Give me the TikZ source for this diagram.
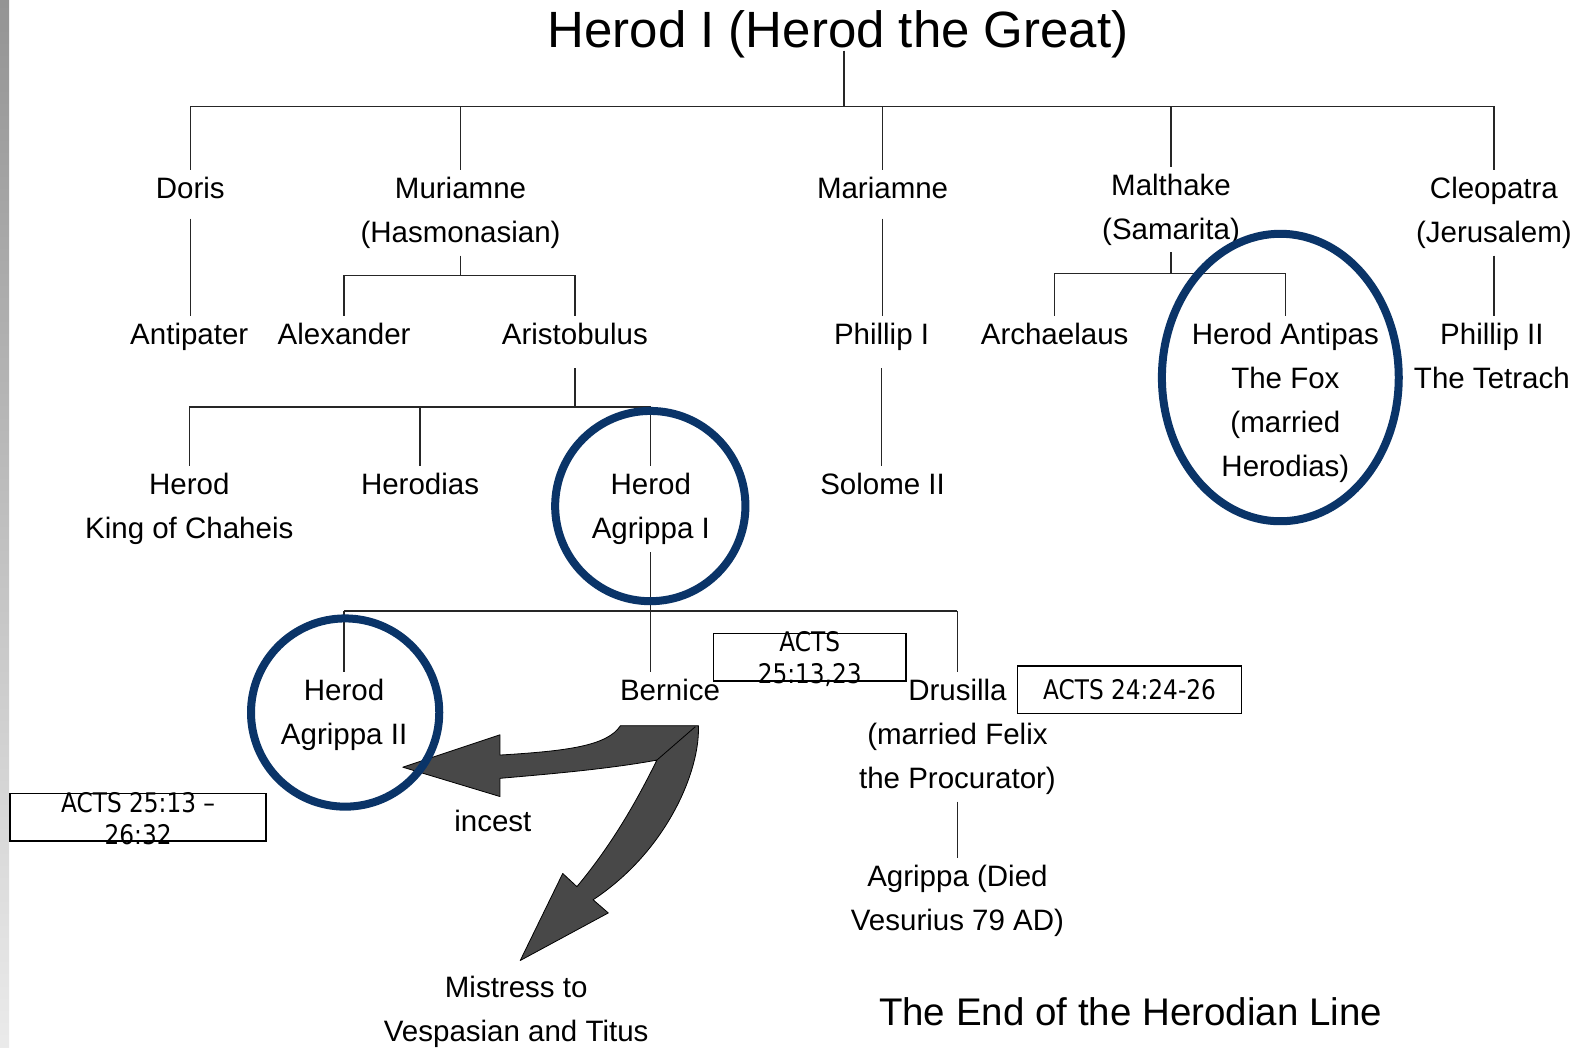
\documentclass[tikz,border=0pt]{standalone}
\usepackage{fontspec}
\setmainfont{Liberation Sans}
\newfontfamily\actsfont[FakeStretch=0.86]{DejaVu Sans}
\usetikzlibrary{calc}
\definecolor{ringblue}{RGB}{10,52,104}
\definecolor{arrowgray}{RGB}{72,72,72}
\begin{document}
\begin{tikzpicture}[x=1.0121pt,y=-1.0121pt,
  person/.style={font=\fontsize{29.5}{44}\selectfont, align=center, inner xsep=1pt, inner ysep=7pt, anchor=north},
  conn/.style={draw=black!85, line width=1.3pt},
  ring/.style={draw=ringblue, line width=8pt},
  actsbox/.style={draw=black, line width=1.6pt},
  actstext/.style={font=\actsfont\fontsize{27}{31.5}\selectfont, align=center, inner sep=0pt},
  bigarrow/.style={fill=arrowgray, draw=black, line width=0.8pt, line join=round},
]
\fill[white] (0,0) rectangle (1568,1035);
\useasboundingbox (0,0) rectangle (1568,1035);
\shade[top color=black!42, bottom color=black!8] (0,0) rectangle (9,1035);

% title
\node[font=\fontsize{51}{60}\selectfont, anchor=base, inner sep=0pt] (title) at (828,47) {Herod I (Herod the Great)};

% wives
\node[person] (doris) at (188,167.6) {Doris};
\node[person] (muriamne) at (455,167.6) {Muriamne\\(Hasmonasian)};
\node[person] (mariamne) at (872,167.6) {Mariamne};
\node[person] (malthake) at (1157,164.6) {Malthake\\(Samarita)};
\node[person] (cleopatra) at (1476,167.6) {Cleopatra\\(Jerusalem)};

% sons
\node[person] (antipater) at (187,312.6) {Antipater};
\node[person] (alexander) at (340,312.6) {Alexander};
\node[person] (aristobulus) at (568,312.6) {Aristobulus};
\node[person] (phillip1) at (871,312.6) {Phillip I};
\node[person] (archaelaus) at (1042,312.6) {Archaelaus};
\node[person] (antipas) at (1270,312.6) {Herod Antipas\\The Fox\\(married\\Herodias)};
\node[person] (phillip2) at (1474,312.6) {Phillip II\\The Tetrach};

% grandchildren
\node[person] (herodK) at (187,460.6) {Herod\\King of Chaheis};
\node[person] (herodias) at (415,460.6) {Herodias};
\node[person] (agrippa1) at (643,460.6) {Herod\\Agrippa I};
\node[person] (solome) at (872,460.6) {Solome II};

% great-grandchildren
\node[person] (agrippa2) at (340,663.6) {Herod\\Agrippa II};
\node[person] (bernice) at (662,663.6) {Bernice};
\node[person] (drusilla) at (946,663.6) {Drusilla\\(married Felix\\the Procurator)};
\node[person] (agrippa) at (946,847.6) {Agrippa (Died\\Vesurius 79 AD)};

\node[person] (incest) at (487,793.6) {incest};
\node[person] (mistress) at (510,957.6) {Mistress to\\Vespasian and Titus};
\node[font=\fontsize{38.5}{46}\selectfont, anchor=base, inner sep=0pt] (endline) at (1117,1013.6) {The End of the Herodian Line};

% connectors
\coordinate (bar0) at (834,105);
\draw[conn] ($(title.base -| bar0)+(0,3)$) -- (bar0);
\draw[conn] (doris.north |- bar0) -- (cleopatra.north |- bar0);
\foreach \n in {doris,muriamne,mariamne,malthake,cleopatra}
  \draw[conn] (\n.north |- bar0) -- (\n.north);

\draw[conn, shorten <=13pt] (doris.south) -- (doris.south |- antipater.north);

\coordinate (bar1) at (455,272);
\draw[conn] (muriamne.south) -- (muriamne.south |- bar1);
\draw[conn] (alexander.north |- bar1) -- (aristobulus.north |- bar1);
\draw[conn] (alexander.north |- bar1) -- (alexander.north);
\draw[conn] (aristobulus.north |- bar1) -- (aristobulus.north);

\coordinate (bar2) at (568,402);
\draw[conn, shorten <=16pt] (aristobulus.south) -- (aristobulus.south |- bar2);
\draw[conn] (herodK.north |- bar2) -- (agrippa1.north |- bar2);
\foreach \n in {herodK,herodias,agrippa1}
  \draw[conn] (\n.north |- bar2) -- (\n.north);

\draw[conn, shorten <=13pt] (mariamne.south) -- (mariamne.south |- phillip1.north);
\draw[conn, shorten <=10pt] (phillip1.south) -- (phillip1.south |- solome.north);

\coordinate (bar4) at (1156,270);
\draw[conn] (malthake.south) -- (malthake.south |- bar4);
\draw[conn] (archaelaus.north |- bar4) -- (antipas.north |- bar4);
\draw[conn] (archaelaus.north |- bar4) -- (archaelaus.north);
\draw[conn] (antipas.north |- bar4) -- (antipas.north);

\draw[conn] (cleopatra.south) -- (cleopatra.south |- phillip2.north);

\coordinate (bar3) at (643,604);
\draw[conn] (agrippa1.south) -- (agrippa1.south |- bar3);
\draw[conn, line width=2pt] (agrippa2.north |- bar3) -- (drusilla.north |- bar3);
\draw[conn] (agrippa2.north |- bar3) -- (agrippa2.north);
\draw[conn] (agrippa1.south |- bar3) -- (agrippa1.south |- bernice.north);
\draw[conn] (drusilla.north |- bar3) -- (drusilla.north);

\draw[conn] (drusilla.south) -- (drusilla.south |- agrippa.north);

% curved arrows from Bernice
\path[bigarrow] (613,717) -- (690,717)
  .. controls (692,760) and (660,840) .. (586,889)
  -- (601,902) -- (514,949) -- (556,863) -- (570,876)
  .. controls (600,840) and (625,800) .. (649,751)
  .. controls (600,760) and (540,765) .. (494,769)
  -- (494,787) -- (398,758) -- (494,726) -- (494,746)
  .. controls (560,742) and (600,737) .. (613,717) -- cycle;
\draw[black, line width=0.8pt] (649,751) -- (687,718);

% ACTS boxes
\node[actstext] (acts1) at (800,651) {ACTS\\25:13,23};
\draw[actsbox] ($(acts1.center)+(-95,-25)$) rectangle ($(acts1.center)+(95,22)$);
\node[actstext] (acts2) at (1116,681.5) {ACTS 24:24-26};
\draw[actsbox] ($(acts2.center)+(-110.5,-23.5)$) rectangle ($(acts2.center)+(110.5,23.5)$);
\node[actstext] (acts3) at (136.5,809) {ACTS 25:13 –\\26:32};
\draw[actsbox] ($(acts3.center)+(-126.5,-25)$) rectangle ($(acts3.center)+(126.5,22)$);

% highlight rings
\draw[ring] (642.5,500) ellipse [x radius=94, y radius=94];
\draw[ring] (341,704) ellipse [x radius=93, y radius=93];
\draw[ring] (1265,373) ellipse [x radius=117, y radius=142];
\end{tikzpicture}
\end{document}
